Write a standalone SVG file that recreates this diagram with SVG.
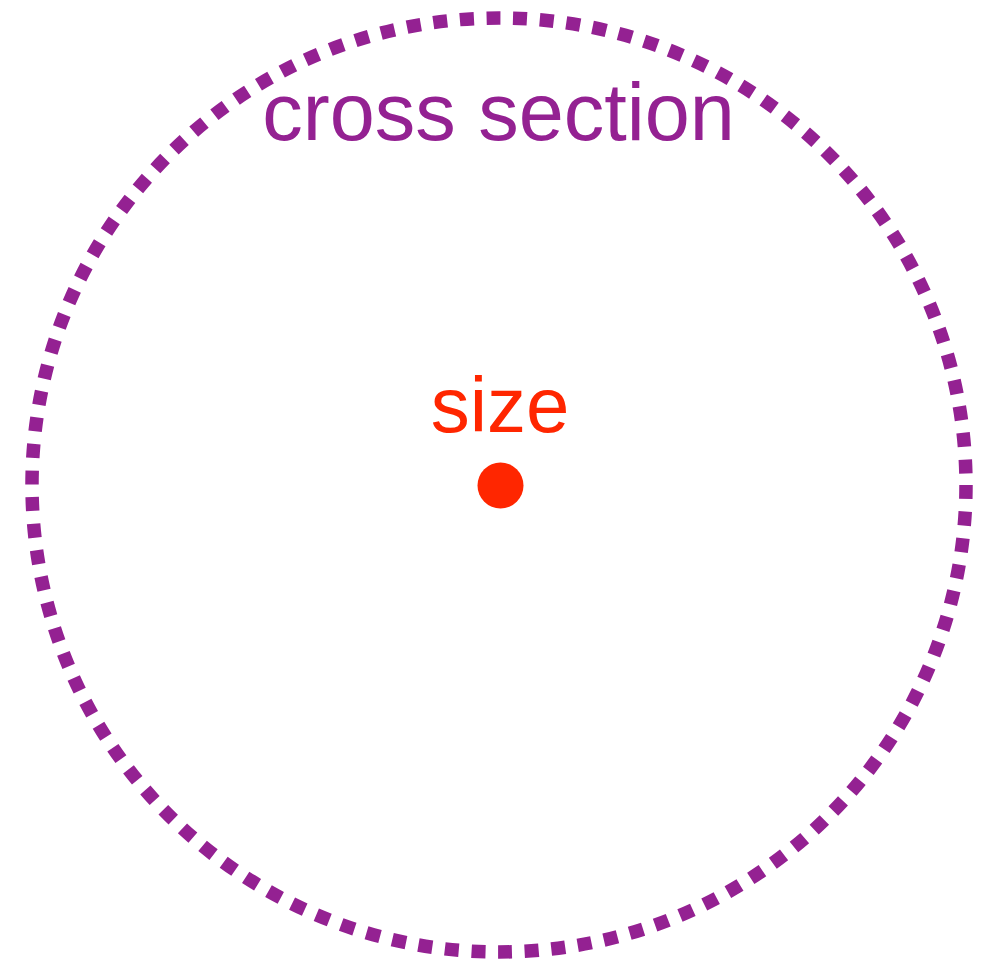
<svg xmlns="http://www.w3.org/2000/svg" width="987" height="959" viewBox="0 0 987 959">
<style>
.sec{fill:none;stroke:#942192;stroke-width:13.5;stroke-dasharray:14 12.68}
.lbl{font-family:"Liberation Sans",Arial,sans-serif;text-anchor:middle}
</style>
<rect width="987" height="959" fill="#ffffff"/>
<g id="cross-section">
<circle class="sec" cx="499" cy="485" r="467"/>
<text class="lbl" x="498.5" y="140" font-size="81" fill="#942192">cross section</text>
</g>
<g id="size">
<text class="lbl" x="500" y="432" font-size="78" fill="#FF2600">size</text>
<circle cx="500.5" cy="485.5" r="23" fill="#FF2600"/>
</g>
</svg>
